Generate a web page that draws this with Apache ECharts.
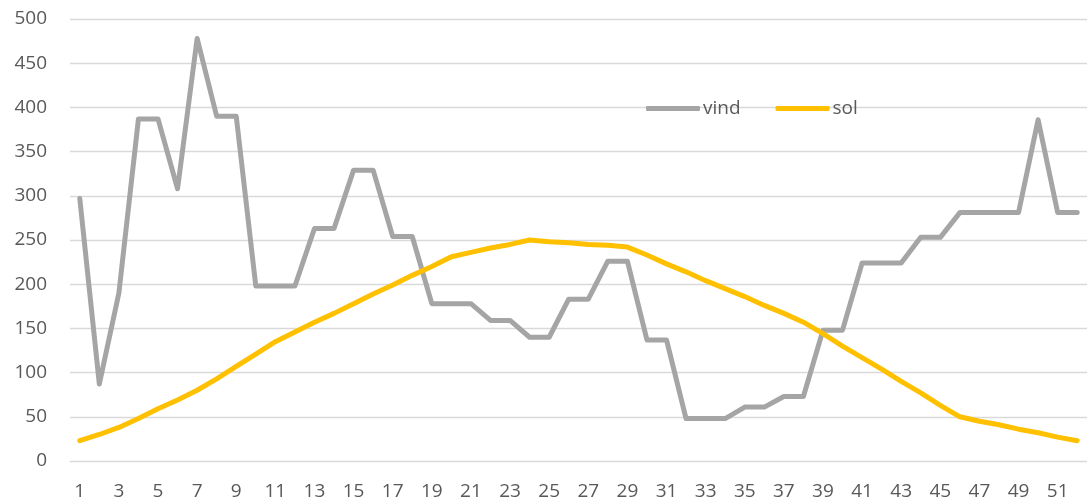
<!DOCTYPE html>
<html>
<head>
<meta charset="utf-8">
<script src="https://cdn.jsdelivr.net/npm/echarts@6/dist/echarts.min.js"></script>
<style>
html,body{margin:0;padding:0;background:#fff;}
#c{width:1087px;height:502px;}
</style>
</head>
<body>
<div id="c"></div>
<script>
const categories = ["1","2","3","4","5","6","7","8","9","10","11","12","13","14","15","16","17","18","19","20","21","22","23","24","25","26","27","28","29","30","31","32","33","34","35","36","37","38","39","40","41","42","43","44","45","46","47","48","49","50","51","52"];
const vind = [297,87,190,387,387,308,478,390,390,198,198,198,263,263,329,329,254,254,178,178,178,159,159,140,140,183,183,226,226,137,137,48,48,48,61,61,73,73,148,148,224,224,224,253,253,281,281,281,281,386,281,281];
const sol = [23,30,38,48,59,69,80,93,107,121,135,146,157,167,178,189,199,210,220,231,236,241,245,250,248,247,245,244,242,233,223,214,204,195,186,176,167,157,144,130,117,104,90,77,63,50,45,41,36,32,27,23];
const seriesNames = ["vind","sol"];
const yTicks = {min:0, max:500, interval:50};

const chart = echarts.init(document.getElementById('c'), null, {renderer:'canvas'});
const font = "'Open Sans', 'Liberation Sans', sans-serif";
chart.setOption({
  animation:false,
  backgroundColor:'#ffffff',
  textStyle:{fontFamily:font},
  legend:{
    left:641, top:94,
    itemWidth:54, itemHeight:5, itemGap:35,
    icon:'roundRect',
    textStyle:{fontSize:19, color:'#595959', fontFamily:font, padding:[0,0,0,-2]},
    data:seriesNames
  },
  grid:{left:70, top:19, height:442, width:1026.5, containLabel:false},
  xAxis:{
    type:'category',
    data:categories,
    boundaryGap:true,
    axisLine:{lineStyle:{color:'#D9D9D9', width:1}},
    axisTick:{show:false},
    axisLabel:{interval:1, fontSize:19, color:'#595959', margin:21, fontFamily:font},
    splitLine:{show:false}
  },
  yAxis:{
    type:'value',
    min:yTicks.min, max:yTicks.max, interval:yTicks.interval,
    axisLine:{show:false},
    axisTick:{show:false},
    axisLabel:{fontSize:19, color:'#595959', margin:23, fontFamily:font},
    splitLine:{lineStyle:{color:'#D9D9D9', width:1.3}}
  },
  series:[
    {name:seriesNames[0], type:'line', data:vind, symbol:'none', itemStyle:{color:'#A5A5A5'},
     lineStyle:{color:'#A5A5A5', width:5, cap:'round', join:'round'}},
    {name:seriesNames[1], type:'line', data:sol, symbol:'none', itemStyle:{color:'#FFC000'},
     lineStyle:{color:'#FFC000', width:5, cap:'round', join:'round'}}
  ]
});
</script>
</body>
</html>
